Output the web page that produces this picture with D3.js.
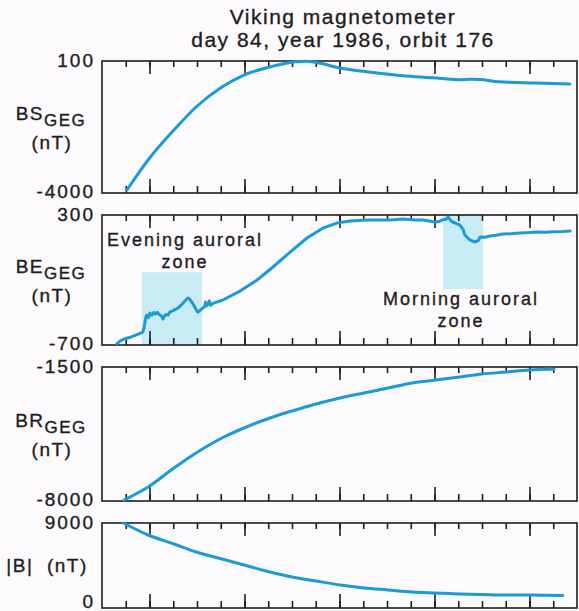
<!DOCTYPE html>
<html>
<head>
<meta charset="utf-8">
<script src="https://cdn.jsdelivr.net/npm/d3@7"></script>
<style>
  body { margin: 0; background: #fcfafc; }
  svg { display: block; font-family: "Liberation Sans", Arial, sans-serif; }
  svg text { stroke: #1e1e1e; stroke-width: 0.35px; }
</style>
</head>
<body>
<div id="root"></div>
<script>
// data, t is in tick units (19 ticks, t = 0..18)
const titleLines = ['Viking magnetometer', 'day 84, year 1986, orbit 176']
const panelNames = ['BS', 'BE', 'BR', '|B|']
const panelSubs = ['GEG', 'GEG', 'GEG', '']
const yMins = [-4000, -700, -8000, 0]
const yMaxs = [100, 300, -1500, 9000]
const yTickLabels = [['100', '-4000'], ['300', '-700'], ['-1500', '-8000'], ['9000', '0']]

const bsData = [
    [0.05, -3907], [0.94, -2975], [2.03, -2043], [2.96, -1329], [4.05, -708],
    [4.98, -335], [6.07, -86], [7.13, 80], [7.6, 95], [7.93, 70], [9.02, -117],
    [10.24, -242], [11.8, -366], [13.06, -428], [14.16, -480], [14.5, -470],
    [14.9, -475], [15.7, -545], [17.23, -583], [18.7, -614]
]

const beData = [
    [-0.37, -690], [-0.2, -665], [0.0, -650], [0.2, -640], [0.45, -622], [0.6, -610],
    [0.72, -600], [0.78, -560], [0.85, -480], [0.9, -470], [0.95, -490], [1.02, -455],
    [1.1, -470], [1.18, -450], [1.25, -462], [1.32, -448], [1.4, -465], [1.5, -475],
    [1.57, -500], [1.62, -478], [1.7, -465], [1.78, -470], [1.86, -446], [1.95, -440],
    [2.05, -430], [2.2, -415], [2.3, -400], [2.45, -370], [2.55, -350], [2.62, -338],
    [2.7, -350], [2.8, -375], [2.9, -405], [3.0, -440], [3.04, -448], [3.15, -430],
    [3.25, -415], [3.32, -405], [3.36, -370], [3.4, -400], [3.47, -385], [3.52, -360],
    [3.57, -395], [3.67, -380], [4.09, -354], [4.81, -285], [5.53, -200], [6.2, -100],
    [6.92, 15], [7.63, 123], [8.31, 200], [8.89, 238], [9.44, 254], [10.16, 262],
    [11.13, 262], [11.67, 269], [12.2, 262], [12.52, 262], [13.02, 246], [13.2, 250],
    [13.32, 262], [13.5, 268], [13.57, 285], [13.65, 265], [13.74, 248], [13.9, 236],
    [14.07, 223], [14.2, 190], [14.28, 146], [14.49, 108], [14.7, 92], [14.85, 105],
    [14.92, 131], [15.1, 128], [15.34, 138], [15.6, 145], [15.88, 154], [16.2, 155],
    [16.6, 162], [17.0, 165], [17.32, 169], [17.7, 168], [17.99, 172], [18.4, 174],
    [18.71, 177]
]

const brData = [
    [-0.07, -7952], [0.94, -7321], [2.03, -6399], [2.96, -5672], [4.05, -4944],
    [4.98, -4459], [6.07, -3974], [7.0, -3634], [8.01, -3295], [9.02, -3004],
    [10.03, -2761], [11.04, -2519], [12.05, -2276], [13.06, -2131], [14.07, -1985],
    [15.0, -1840], [16.01, -1743], [17.02, -1646], [18.03, -1597]
]

const bData = [
    [-0.1, 9000], [0.94, 7729], [2.03, 6776], [2.96, 5929], [4.05, 5188],
    [4.98, 4553], [6.07, 3812], [7.0, 3282], [8.01, 2859], [9.02, 2435],
    [10.03, 2118], [11.04, 1906], [12.05, 1694], [13.06, 1588], [14.07, 1482],
    [15.0, 1430], [16.01, 1376], [17.02, 1376], [18.4, 1320]
]

const seriesList = [bsData, beData, brData, bData]

// shaded auroral zones on the BE panel
const zoneNames = [['Evening auroral', 'zone'], ['Morning auroral', 'zone']]
const zoneStart = [0.68, 13.36]
const zoneEnd = [3.21, 15.04]
const zoneTop = [-140, 300]
const zoneBottom = [-700, -270]

const tickValues = d3.range(0, 19)
const majorTicks = [1, 5, 9, 13, 17]

const width = 579
const height = 611
const panelTops = [61, 215, 367, 523]
const panelBottoms = [193, 345, 501, 608]
const lineColor = '#1b9ad8'
const ink = '#1e1e1e'

const svg = d3.select('#root').append('svg')
    .attr('width', width).attr('height', height)

svg.append('rect').attr('width', width).attr('height', height).attr('fill', '#fcfafc')

const x = d3.scaleLinear().domain([-1, 19]).range([102, 577])

svg.selectAll('.title').data(titleLines)
    .enter().append('text')
    .attr('class', 'title')
    .attr('x', 343).attr('y', (d, i) => 24 + i * 23)
    .attr('text-anchor', 'middle')
    .attr('font-size', 21).attr('letter-spacing', 1.5)
    .attr('fill', ink)
    .text(d => d)

seriesList.forEach((data, p) => {
    const top = panelTops[p], bottom = panelBottoms[p]
    const y = d3.scaleLinear().domain([yMins[p], yMaxs[p]]).range([bottom, top])
    const g = svg.append('g').attr('class', 'panel-' + p)

    if (p === 1) {
        zoneStart.forEach((z, i) => {
            g.append('rect')
                .attr('x', x(z)).attr('width', x(zoneEnd[i]) - x(z))
                .attr('y', y(zoneTop[i])).attr('height', y(zoneBottom[i]) - y(zoneTop[i]))
                .attr('fill', '#c9ebf4')
        })
    }

    // ticks on top and bottom edges, minor then major
    const drawTicks = (axisFn, ypos, vals, size) => {
        const ax = g.append('g').attr('transform', `translate(0,${ypos})`)
            .call(axisFn(x).tickValues(vals).tickSize(size).tickFormat(''))
        ax.select('.domain').remove()
        ax.selectAll('line').attr('stroke', ink).attr('stroke-width', 1.6)
    }
    drawTicks(d3.axisBottom, top, tickValues, 6)
    drawTicks(d3.axisBottom, top, majorTicks, 13)
    drawTicks(d3.axisTop, bottom, tickValues, 7)
    drawTicks(d3.axisTop, bottom, majorTicks, 14)

    g.append('rect')
        .attr('x', x(-1)).attr('y', top)
        .attr('width', x(19) - x(-1)).attr('height', bottom - top)
        .attr('fill', 'none').attr('stroke', ink).attr('stroke-width', 1.6)

    const line = d3.line().x(d => x(d[0])).y(d => y(d[1]))
        .curve(p === 1 ? d3.curveLinear : d3.curveMonotoneX)
    g.append('path').datum(data)
        .attr('d', line)
        .attr('fill', 'none').attr('stroke', lineColor)
        .attr('stroke-width', 3).attr('stroke-linejoin', 'round').attr('stroke-linecap', 'round')

    // end labels of the y scale
    const yVals = [yMaxs[p], yMins[p]]
    g.selectAll('.ylab').data(yVals)
        .enter().append('text')
        .attr('class', 'ylab')
        .attr('x', 95)
        .attr('y', (d, i) => y(d) + (p === 3 && i === 1 ? 0 : (i === 0 ? 6 : 5)))
        .attr('text-anchor', 'end')
        .attr('font-size', 19).attr('letter-spacing', 2)
        .attr('fill', ink)
        .text((d, i) => yTickLabels[p][i])

    // panel name
    const mid = (top + bottom) / 2
    if (p < 3) {
        const t = g.append('text')
            .attr('x', 51).attr('y', mid - 7)
            .attr('text-anchor', 'middle')
            .attr('font-size', 19).attr('letter-spacing', 1.5).attr('fill', ink)
        t.append('tspan').text(panelNames[p])
        t.append('tspan').attr('dy', 6).attr('font-size', 17).text(panelSubs[p])
        g.append('text')
            .attr('x', 52).attr('y', mid + 22)
            .attr('text-anchor', 'middle')
            .attr('font-size', 19).attr('letter-spacing', 1.5).attr('fill', ink)
            .text('(nT)')
    } else {
        g.append('text')
            .attr('x', 47).attr('y', mid + 6)
            .attr('text-anchor', 'middle')
            .attr('font-size', 19).attr('letter-spacing', 1.5).attr('fill', ink)
            .attr('xml:space', 'preserve')
            .text(panelNames[p] + '  (nT)')
    }

    if (p === 1) {
        const zoneLabelX = [185, 461]
        const zoneLabelY = [246, 305]
        zoneNames.forEach((lines, i) => {
            g.selectAll('.zl' + i).data(lines)
                .enter().append('text')
                .attr('x', zoneLabelX[i]).attr('y', (d, j) => zoneLabelY[i] + j * 22)
                .attr('text-anchor', 'middle')
                .attr('font-size', 18).attr('letter-spacing', 2).attr('fill', ink)
                .text(d => d)
        })
    }
})
</script>
</body>
</html>
